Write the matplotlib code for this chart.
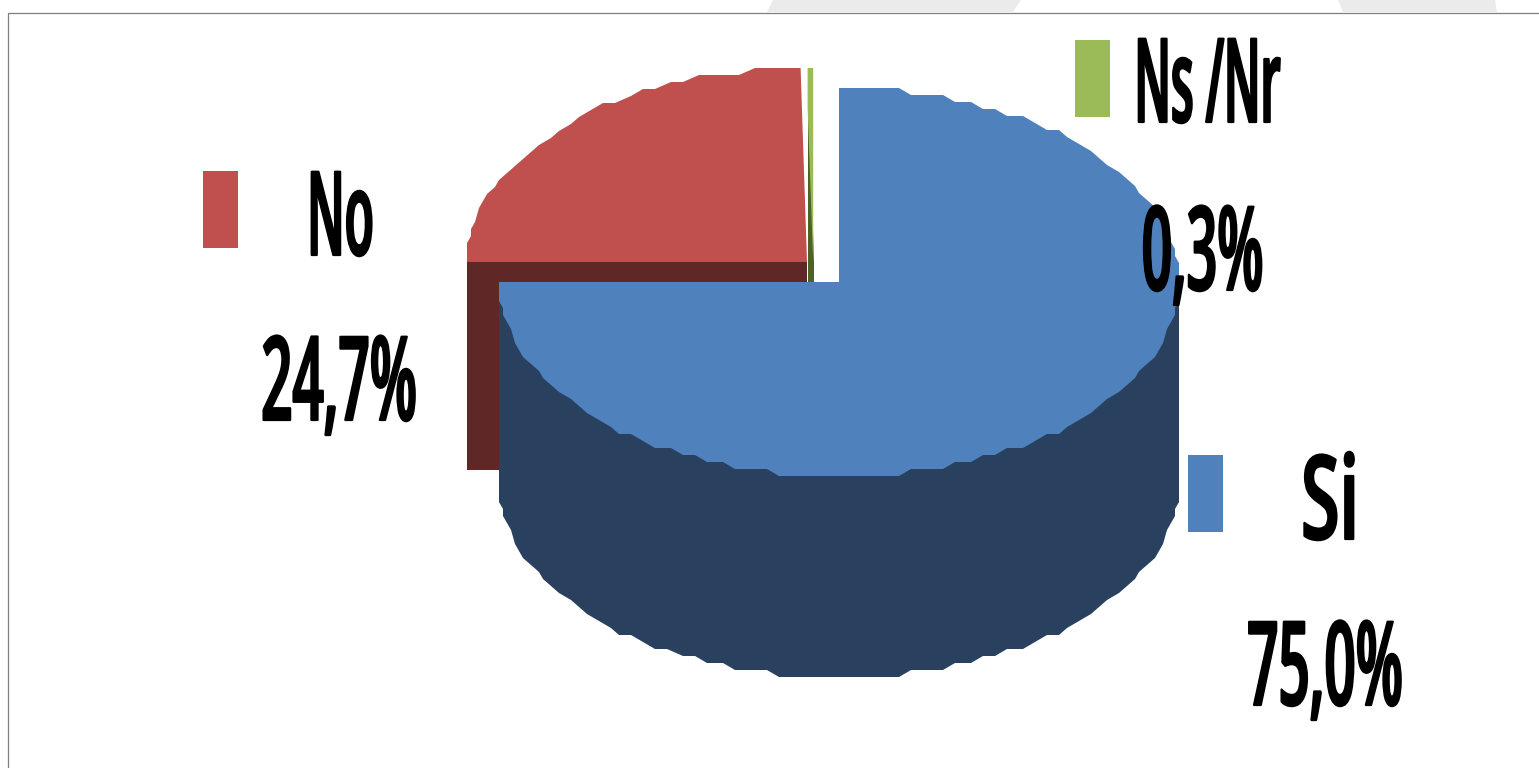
import numpy as np
import matplotlib
matplotlib.use("Agg")
import matplotlib.pyplot as plt
import matplotlib.patheffects as pe
from matplotlib.patches import Rectangle, Polygon
from matplotlib.transforms import Affine2D

# ---- data ----
categories = ["Si", "No", "Ns /Nr"]
shares = [75.0, 24.7, 0.3]
percent_labels = ["75,0%", "24,7%", "0,3%"]

# ---- styles / layout (pixels, origin top-left) ----
W, H = 1539, 768
BLUE, RED, GREEN = "#4F81BD", "#C0504D", "#9BBB59"
DBLUE, DRED, DGREEN = "#29405F", "#5F2725", "#4E6128"
RX, RY = 340, 194
centers = {"Si": (839, 282), "No": (807, 262), "Ns /Nr": (814, 262)}
DEPTH = 201
WALL = 208


class SqueezeX(pe.AbstractPathEffect):
    """Draw text condensed horizontally around its centre, with softened corners."""
    def __init__(self, cx, sx, lw=1.6):
        super().__init__()
        self.cx, self.sx, self.lw = cx, sx, lw

    def draw_path(self, renderer, gc, tpath, affine, rgbFace=None):
        squeeze = Affine2D().translate(-self.cx, 0).scale(self.sx, 1).translate(self.cx, 0)
        gc0 = renderer.new_gc()
        gc0.copy_properties(gc)
        gc0.set_linewidth(self.lw)
        gc0.set_foreground("black")
        gc0.set_joinstyle("round")
        renderer.draw_path(gc0, tpath, affine + squeeze, rgbFace)
        gc0.restore()


def arc(center, t1, t2, step=2.5, dy=0.0):
    """Points of the slightly stepped ellipse, in pixel coordinates (clockwise angles from t1 to t2)."""
    n = max(2, int(abs(t2 - t1) / step) + 1)
    th = np.radians(np.linspace(t1, t2, n))
    xs = center[0] + RX * np.cos(th)
    off = RY * np.sin(th)
    # steps counted from the top/bottom extreme of the ellipse
    stepped = RY - np.round((RY - np.abs(off)) / 7.0) * 7.0
    stepped = np.maximum(stepped, 0)
    ys = center[1] + dy - np.sign(off) * stepped
    xs = np.round((xs - center[0]) / 4.0) * 4.0 + center[0]
    return xs, ys


fig = plt.figure(figsize=(W / 100, H / 100), dpi=100)
ax = fig.add_axes([0, 0, 1, 1])
ax.set_xlim(0, W)
ax.set_ylim(H, 0)
ax.axis("off")

# faded background shapes above the frame
for pts in ([(767, 12), (773, 0), (1021, 0), (1013, 12)],
            [(1343, 12), (1338, 0), (1495, 0), (1497, 12)]):
    ax.add_patch(Polygon(pts, closed=True, fc="#EBEBEB", ec="none", zorder=1))

# frame
ax.plot([7.5, 7.5, W], [H, 12.5, 12.5], color="#7F7F7F", lw=0.9, zorder=2, solid_capstyle="butt")

# slice angles from the shares (clockwise from 12 o'clock)
ends = 90 - np.cumsum(shares) * 3.6
starts = np.r_[90, ends[:-1]]
theta = {c: (a, b) for c, a, b in zip(categories, starts, ends)}

# red cut wall
cx, cy = centers["No"]
ax.add_patch(Rectangle((cx - RX, cy), RX, WALL, fc=DRED, ec="none", zorder=3))
# green cut wall
gx, gy = centers["Ns /Nr"]
ax.add_patch(Rectangle((gx - 6.5, gy), 6.5, 20, fc=DGREEN, ec="none", zorder=3))

# red top
xs, ys = arc(centers["No"], theta["No"][0] % 360, theta["No"][1] % 360 if theta["No"][1] % 360 else 360)
xs[-1] = cx + RX * np.cos(np.radians(theta["No"][1]))
ax.fill(np.r_[xs, cx], np.r_[ys, cy], fc=RED, ec="none", zorder=4)

# green top: cut face behind, slice in front
t1, t2 = theta["Ns /Nr"]
left = gx + RX * np.cos(np.radians(t1))
top = gy - RY
ax.fill([left, left, gx], [top, gy, gy], fc=DGREEN, ec="none", zorder=4)
ax.fill([left, gx - 0.8, gx - 0.8, left], [top, top, gy, top + 40], fc=GREEN, ec="none", zorder=5)

# blue side wall
bx, by = centers["Si"]
xs, ys = arc(centers["Si"], 180, 360, dy=DEPTH)
ax.fill(np.r_[bx - RX, xs, bx + RX], np.r_[by, ys, by], fc=DBLUE, ec="none", zorder=6)

# blue top
xs, ys = arc(centers["Si"], theta["Si"][0], theta["Si"][1])
ax.fill(np.r_[xs, bx], np.r_[ys, by], fc=BLUE, ec="none", zorder=7)

# legend keys
for c, col, (x, y) in zip(categories, (BLUE, RED, GREEN), ((1188, 455), (203, 171), (1075, 40))):
    ax.add_patch(Rectangle((x, y), 35, 77, fc=col, ec="none", zorder=8))

# labels: (text, centre x, baseline y, horizontal squeeze)
FS = 84
label_spec = [
    (categories[1], 340.5, 255, 0.41),
    (percent_labels[1], 339, 420, 0.47),
    (categories[2], 1207.5, 122, 0.40),
    (percent_labels[2], 1202.5, 290, 0.46),
    (categories[0], 1330, 539, 0.60),
    (percent_labels[0], 1325, 705, 0.47),
]
for txt, x, y, sx in label_spec:
    t = ax.text(x, y, txt, ha="center", va="baseline", fontsize=FS, fontweight="semibold",
                family="Open Sans", color="black", zorder=9)
    t.set_path_effects([SqueezeX(x, sx)])

fig.savefig("out.png", dpi=100, facecolor="white")
